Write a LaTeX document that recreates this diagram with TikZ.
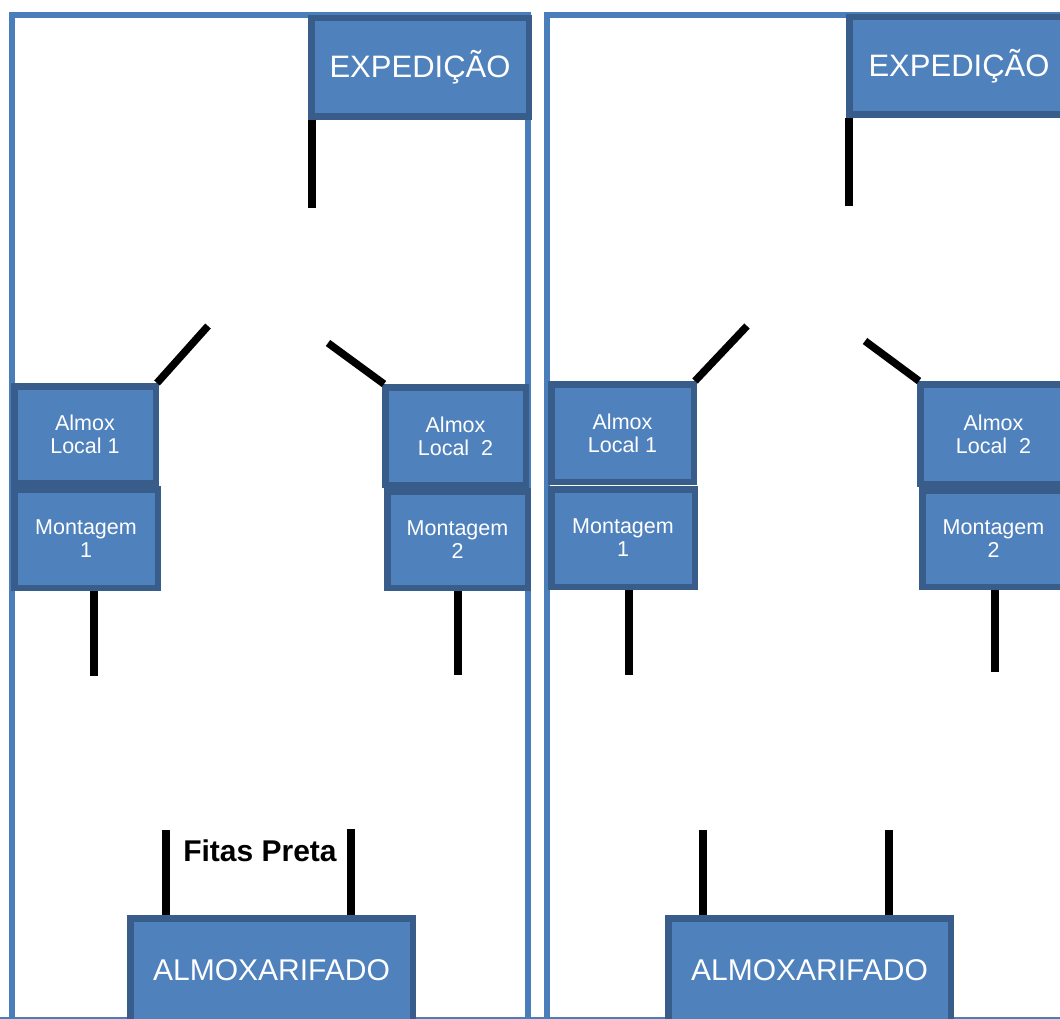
\documentclass[tikz,border=0pt]{standalone}
\usepackage{fontspec}
\setmainfont{Liberation Sans}
\definecolor{boxfill}{HTML}{4F81BD}
\definecolor{boxline}{HTML}{385D8A}
\definecolor{frameblue}{HTML}{4A7EBB}
\tikzset{
  box/.style={rectangle, draw=boxline, fill=boxfill, line width=6.5pt, inner sep=0pt,
              text=white, align=center},
  bigtxt/.style={font=\fontsize{31}{36}\selectfont},
  almtxt/.style={font=\fontsize{30}{36}\selectfont},
  smalltxt/.style={font=\fontsize{21.5}{23}\selectfont},
  frame/.style={draw=frameblue, line width=6pt},
  link/.style={draw=black, line width=7.5pt},
}
\begin{document}
\begin{tikzpicture}[x=1pt,y=-1pt]
\clip (0,0) rectangle (1060,1019);
\fill[white] (0,0) rectangle (1060,1019);
% frames
\draw[frame] (12,1019) -- (12,15) -- (528,15) -- (528,1019);
\draw[frame] (547,1019) -- (547,15) -- (1062,15);
\draw[draw=frameblue, line width=1.5pt] (0,1018) -- (1060,1018);

% ---------- left panel ----------
\node[box, bigtxt, minimum width=217.5, minimum height=98.5] (expL) at (420,67.5) {EXPEDIÇÃO};
\node[box, smalltxt, minimum width=141.5, minimum height=96.5] (alL1) at (85,434.5) {Almox\\Local 1};
\node[box, smalltxt, minimum width=143.5, minimum height=98.5] (monL1) at (86,538.5) {Montagem\\1};
\node[box, smalltxt, minimum width=140.5, minimum height=97.5] (alL2) at (455.5,436) {Almox\\Local\ \ 2};
\node[box, smalltxt, minimum width=140.5, minimum height=96.5] (monL2) at (457.5,539.5) {Montagem\\2};
\node[box, almtxt, minimum width=282.5, minimum height=103.5] (almL) at (271.5,970) {ALMOXARIFADO};

\coordinate (eL) at (312,208);
\coordinate (dL1) at (208,326);
\coordinate (dL2) at (328,343);
\coordinate (mL1) at (94,676);
\coordinate (mL2) at (458,675);
\coordinate (fL1) at (166,830);
\coordinate (fL2) at (351,829);

\draw[link] (expL.south -| eL) -- (eL);
\draw[link] (alL1.north east) ++(-2,0) -- (dL1);
\draw[link] (alL2.north west) ++(2,0) -- (dL2);
\draw[link] (monL1.south -| mL1) -- (mL1);
\draw[link] (monL2.south -| mL2) -- (mL2);
\draw[link] (almL.north -| fL1) -- (fL1);
\draw[link] (almL.north -| fL2) -- (fL2);
\node[font=\fontsize{30}{36}\selectfont\bfseries, text=black, inner sep=0pt] (fitas) at (260,851) {Fitas Preta};

% ---------- right panel ----------
\node[box, bigtxt, minimum width=219.5, minimum height=97.5] (expR) at (959,66) {EXPEDIÇÃO};
\node[box, smalltxt, minimum width=142.5, minimum height=97.5] (alR1) at (622.5,433) {Almox\\Local 1};
\node[box, smalltxt, minimum width=143.5, minimum height=97.5] (monR1) at (623,538) {Montagem\\1};
\node[box, smalltxt, minimum width=146.5, minimum height=99.5] (alR2) at (993.5,434) {Almox\\Local\ \ 2};
\node[box, smalltxt, minimum width=142.5, minimum height=96.5] (monR2) at (993.5,538.5) {Montagem\\2};
\node[box, almtxt, minimum width=282.5, minimum height=103.5] (almR) at (809.5,970) {ALMOXARIFADO};

\coordinate (eR) at (849,206);
\coordinate (dR1) at (747,326);
\coordinate (dR2) at (865,341);
\coordinate (mR1) at (629,675);
\coordinate (mR2) at (995,672);
\coordinate (fR1) at (703,830);
\coordinate (fR2) at (889,830);

\draw[link] (expR.south -| eR) -- (eR);
\draw[link] (alR1.north east) ++(-2,0) -- (dR1);
\draw[link] (alR2.north west) ++(2,0) -- (dR2);
\draw[link] (monR1.south -| mR1) -- (mR1);
\draw[link] (monR2.south -| mR2) -- (mR2);
\draw[link] (almR.north -| fR1) -- (fR1);
\draw[link] (almR.north -| fR2) -- (fR2);
\end{tikzpicture}
\end{document}
